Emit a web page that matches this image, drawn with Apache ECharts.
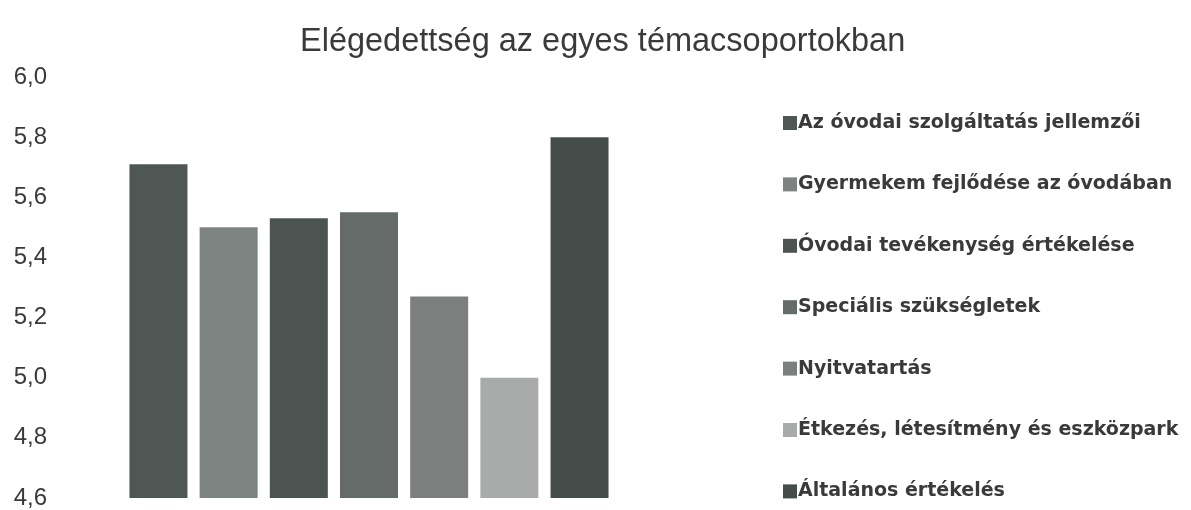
<!DOCTYPE html>
<html>
<head>
<meta charset="utf-8">
<script src="https://cdn.jsdelivr.net/npm/echarts@6/dist/echarts.min.js"></script>
<style>
  html, body { margin: 0; padding: 0; background: #fff; }
  #chart { width: 1191px; height: 510px; }
</style>
</head>
<body>
<div id="chart"></div>
<script>
// adatok
const category = ['Elégedettség'];
const seriesNames = [
    'Az óvodai szolgáltatás jellemzői',
    'Gyermekem fejlődése az óvodában',
    'Óvodai tevékenység értékelése',
    'Speciális szükségletek',
    'Nyitvatartás',
    'Étkezés, létesítmény és eszközpark',
    'Általános értékelés'
];
const values = [5.71, 5.50, 5.53, 5.55, 5.27, 5.00, 5.80];
const palette = ['#4f5754', '#7d8380', '#4c5451', '#646b68', '#7b807e', '#a9abaa', '#454d4b'];

let chart = echarts.init(document.getElementById('chart'));

let series = [];
for (let i = 0; i < seriesNames.length; i++) {
    series.push({
        name: seriesNames[i],
        type: 'bar',
        barWidth: 58,
        barGap: '21%',
        itemStyle: { color: palette[i] },
        data: [values[i]]
    });
}

let option = {
    animation: false,
    title: {
        text: 'Elégedettség az egyes témacsoportokban',
        left: 295,
        top: 21,
        textStyle: {
            fontFamily: 'Liberation Sans',
            fontSize: 32.5,
            fontWeight: 'normal',
            color: '#3a3a3a'
        }
    },
    legend: {
        orient: 'vertical',
        left: 778,
        top: 108,
        itemGap: 41.4,
        itemWidth: 14,
        itemHeight: 14,
        icon: 'rect',
        textStyle: {
            fontFamily: 'DejaVu Sans',
            fontSize: 19,
            fontWeight: 'bold',
            lineHeight: 20,
            color: '#3a3a3a',
            padding: [0, 0, 0, -4]
        },
        data: seriesNames
    },
    grid: {
        left: 110,
        right: 563,
        top: 77,
        bottom: 10
    },
    xAxis: {
        type: 'category',
        data: category,
        axisLine: { show: false },
        axisTick: { show: false },
        axisLabel: { show: false }
    },
    yAxis: {
        type: 'value',
        min: 4.6,
        max: 6.0,
        interval: 0.2,
        splitLine: { show: false },
        axisLine: { show: false },
        axisTick: { show: false },
        axisLabel: {
            margin: 63,
            fontFamily: 'Liberation Sans',
            fontSize: 24,
            color: '#3a3a3a',
            formatter: function (v) {
                return v.toFixed(1).replace('.', ',');
            }
        }
    },
    series: series
};

chart.setOption(option);
</script>
</body>
</html>
